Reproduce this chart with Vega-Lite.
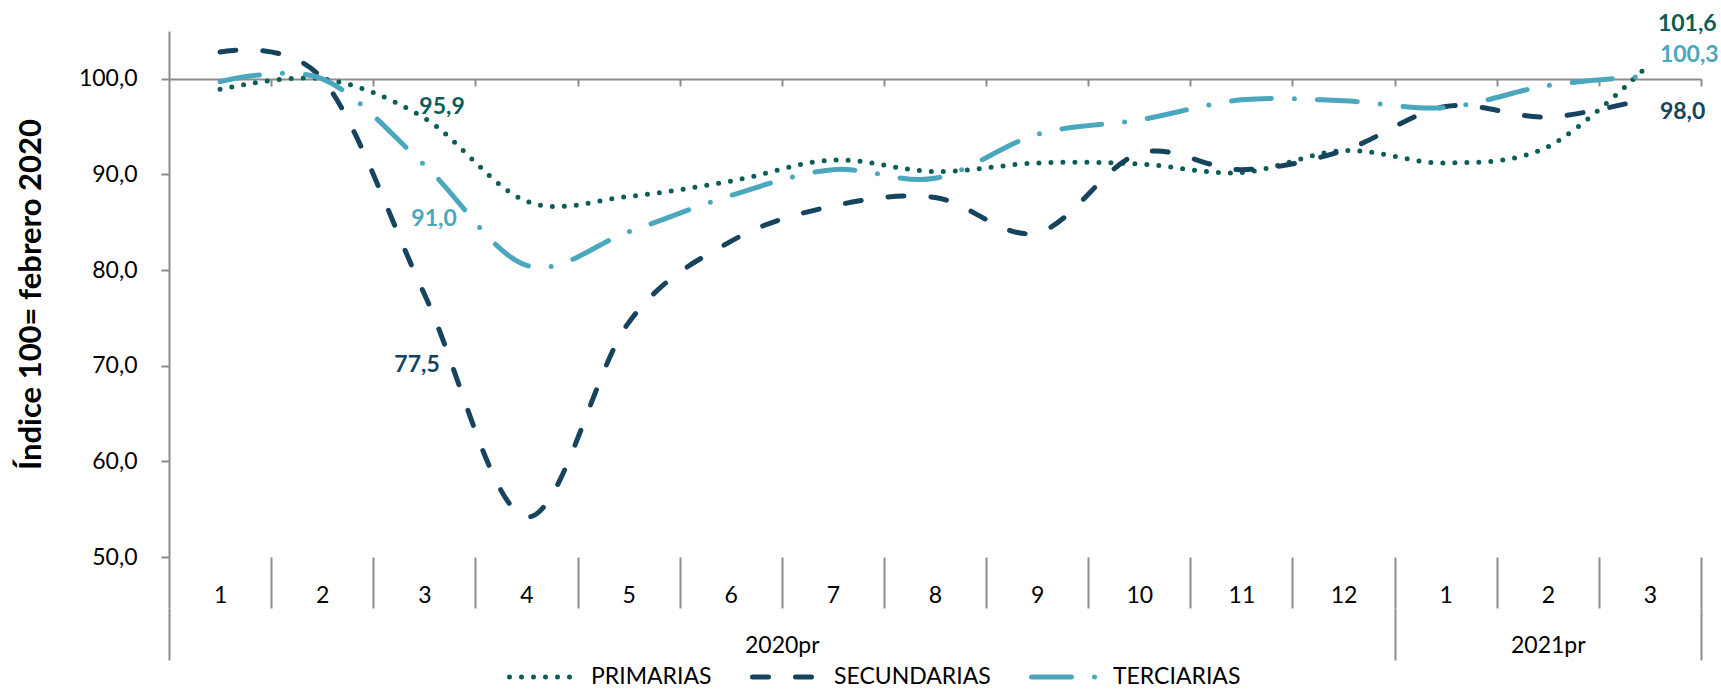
{
  "$schema": "https://vega.github.io/schema/vega-lite/v6.json",
  "width": 1532,
  "height": 526,
  "autosize": {"type": "none"},
  "padding": {"left": 169, "top": 31, "right": 20, "bottom": 133},
  "config": {
    "view": {"stroke": null},
    "font": "Lato",
    "locale": {"number": {"decimal": ",", "thousands": ".", "grouping": [3], "currency": ["", " €"]}},
    "axis": {
      "labelFont": "Lato", "labelFontSize": 23, "labelColor": "#000000",
      "domainColor": "#8c8c8c", "tickColor": "#8c8c8c", "domainWidth": 2, "tickWidth": 2,
      "grid": false, "titleFont": "Lato"
    },
    "legend": {"padding": 0}
  },
  "data": {"values": [
    {"serie": "PRIMARIAS", "n": 1, "valor": 98.9},
    {"serie": "PRIMARIAS", "n": 2, "valor": 100.0},
    {"serie": "PRIMARIAS", "n": 3, "valor": 95.9},
    {"serie": "PRIMARIAS", "n": 4, "valor": 87.2},
    {"serie": "PRIMARIAS", "n": 5, "valor": 87.7},
    {"serie": "PRIMARIAS", "n": 6, "valor": 89.3},
    {"serie": "PRIMARIAS", "n": 7, "valor": 91.5},
    {"serie": "PRIMARIAS", "n": 8, "valor": 90.3},
    {"serie": "PRIMARIAS", "n": 9, "valor": 91.2},
    {"serie": "PRIMARIAS", "n": 10, "valor": 91.1},
    {"serie": "PRIMARIAS", "n": 11, "valor": 90.2},
    {"serie": "PRIMARIAS", "n": 12, "valor": 92.5},
    {"serie": "PRIMARIAS", "n": 13, "valor": 91.2},
    {"serie": "PRIMARIAS", "n": 14, "valor": 92.9},
    {"serie": "PRIMARIAS", "n": 15, "valor": 101.6},
    {"serie": "SECUNDARIAS", "n": 1, "valor": 102.8},
    {"serie": "SECUNDARIAS", "n": 2, "valor": 100.0},
    {"serie": "SECUNDARIAS", "n": 3, "valor": 77.5},
    {"serie": "SECUNDARIAS", "n": 4, "valor": 54.2},
    {"serie": "SECUNDARIAS", "n": 5, "valor": 74.5},
    {"serie": "SECUNDARIAS", "n": 6, "valor": 83.0},
    {"serie": "SECUNDARIAS", "n": 7, "valor": 86.7},
    {"serie": "SECUNDARIAS", "n": 8, "valor": 87.6},
    {"serie": "SECUNDARIAS", "n": 9, "valor": 83.9},
    {"serie": "SECUNDARIAS", "n": 10, "valor": 92.2},
    {"serie": "SECUNDARIAS", "n": 11, "valor": 90.5},
    {"serie": "SECUNDARIAS", "n": 12, "valor": 92.5},
    {"serie": "SECUNDARIAS", "n": 13, "valor": 97.1},
    {"serie": "SECUNDARIAS", "n": 14, "valor": 96.0},
    {"serie": "SECUNDARIAS", "n": 15, "valor": 98.0},
    {"serie": "TERCIARIAS", "n": 1, "valor": 99.7},
    {"serie": "TERCIARIAS", "n": 2, "valor": 100.0},
    {"serie": "TERCIARIAS", "n": 3, "valor": 91.0},
    {"serie": "TERCIARIAS", "n": 4, "valor": 80.5},
    {"serie": "TERCIARIAS", "n": 5, "valor": 84.0},
    {"serie": "TERCIARIAS", "n": 6, "valor": 87.8},
    {"serie": "TERCIARIAS", "n": 7, "valor": 90.5},
    {"serie": "TERCIARIAS", "n": 8, "valor": 89.6},
    {"serie": "TERCIARIAS", "n": 9, "valor": 94.2},
    {"serie": "TERCIARIAS", "n": 10, "valor": 95.7},
    {"serie": "TERCIARIAS", "n": 11, "valor": 97.8},
    {"serie": "TERCIARIAS", "n": 12, "valor": 97.7},
    {"serie": "TERCIARIAS", "n": 13, "valor": 97.0},
    {"serie": "TERCIARIAS", "n": 14, "valor": 99.3},
    {"serie": "TERCIARIAS", "n": 15, "valor": 100.3}
  ]},
  "resolve": {"axis": {"x": "independent"}},
  "layer": [
    {
      "mark": {"type": "line", "interpolate": "cardinal", "strokeWidth": 5, "strokeCap": "round"},
      "encoding": {
        "x": {"field": "n", "type": "quantitative",
          "scale": {"domain": [0.5, 15.5], "nice": false, "zero": false},
          "axis": {"orient": "bottom", "offset": -478, "values": [1.5, 2.5, 3.5, 4.5, 5.5, 6.5, 7.5, 8.5, 9.5, 10.5, 11.5, 12.5, 13.5, 14.5, 15.5],
            "tickSize": 7, "labels": false, "title": null, "domain": true, "ticks": true}},
        "y": {"field": "valor", "type": "quantitative",
          "scale": {"domain": [50, 105], "nice": false, "zero": false},
          "axis": {"values": [50, 60, 70, 80, 90, 100], "format": ".1f", "tickSize": 8, "labelPadding": 24,
            "title": "Índice 100= febrero 2020", "titleFontSize": 31, "titleFontWeight": "bold", "titleColor": "#000000", "titlePadding": 31}},
        "color": {"field": "serie", "type": "nominal",
          "scale": {"domain": ["PRIMARIAS", "SECUNDARIAS", "TERCIARIAS"], "range": ["#0b5e58", "#16445f", "#4aa7be"]},
          "legend": {"orient": "none", "legendX": 338, "legendY": 633, "direction": "horizontal", "title": null,
            "symbolType": "stroke", "symbolSize": 4900, "symbolStrokeWidth": 5, "clipHeight": 26, "labelFontSize": 23, "labelFont": "Lato",
            "labelColor": "#000000", "labelOffset": 9, "columnPadding": 38, "labelLimit": 300,
            "encoding": {"symbols": {"strokeCap": {"value": "round"}}}}},
        "strokeDash": {"field": "serie", "type": "nominal",
          "scale": {"domain": ["PRIMARIAS", "SECUNDARIAS", "TERCIARIAS"], "range": [[0, 12], [16, 27], [40, 23, 0, 23]]},
          "legend": {"orient": "none", "legendX": 338, "legendY": 633, "direction": "horizontal", "title": null,
            "symbolType": "stroke", "symbolSize": 4900, "symbolStrokeWidth": 5, "clipHeight": 26, "labelFontSize": 23, "labelFont": "Lato",
            "labelColor": "#000000", "labelOffset": 9, "columnPadding": 38, "labelLimit": 300,
            "encoding": {"symbols": {"strokeCap": {"value": "round"}}}}}
      }
    },
    {
      "transform": [{"filter": "datum.serie == 'PRIMARIAS' && datum.n == 3"}],
      "mark": {"type": "text", "align": "left", "baseline": "middle", "dx": -5, "dy": -11, "fontSize": 23, "fontWeight": "bold", "font": "Lato"},
      "encoding": {
        "x": {"field": "n", "type": "quantitative",
          "axis": {"orient": "bottom", "offset": 0, "values": [0.5, 1.5, 2.5, 3.5, 4.5, 5.5, 6.5, 7.5, 8.5, 9.5, 10.5, 11.5, 12.5, 13.5, 14.5, 15.5],
            "tickSize": 51, "labels": false, "domain": false, "title": null}},
        "y": {"field": "valor", "type": "quantitative"},
        "text": {"field": "valor", "type": "quantitative", "format": ".1f"},
        "color": {"value": "#0b5e58"}
      }
    },
    {
      "transform": [{"filter": "datum.serie == 'TERCIARIAS' && datum.n == 3"}],
      "mark": {"type": "text", "align": "left", "baseline": "middle", "dx": -13, "dy": 54, "fontSize": 23, "fontWeight": "bold", "font": "Lato"},
      "encoding": {
        "x": {"field": "n", "type": "quantitative",
          "axis": {"orient": "bottom", "offset": 0, "values": [1, 2, 3, 4, 5, 6, 7, 8, 9, 10, 11, 12, 13, 14, 15],
            "labelExpr": "'' + (datum.value > 12 ? datum.value - 12 : datum.value)",
            "ticks": false, "tickSize": 0, "labelPadding": 38, "labelBaseline": "middle", "domain": false, "title": null}},
        "y": {"field": "valor", "type": "quantitative"},
        "text": {"field": "valor", "type": "quantitative", "format": ".1f"},
        "color": {"value": "#4aa7be"}
      }
    },
    {
      "transform": [{"filter": "datum.serie == 'SECUNDARIAS' && datum.n == 3"}],
      "mark": {"type": "text", "align": "left", "baseline": "middle", "dx": -30, "dy": 71, "fontSize": 23, "fontWeight": "bold", "font": "Lato"},
      "encoding": {
        "x": {"field": "n", "type": "quantitative",
          "axis": {"orient": "bottom", "offset": 51, "values": [0.5, 12.5, 15.5],
            "tickSize": 52, "labels": false, "domain": false, "title": null}},
        "y": {"field": "valor", "type": "quantitative"},
        "text": {"field": "valor", "type": "quantitative", "format": ".1f"},
        "color": {"value": "#16445f"}
      }
    },
    {
      "transform": [{"filter": "datum.serie == 'PRIMARIAS' && datum.n == 15"}],
      "mark": {"type": "text", "align": "left", "baseline": "middle", "dx": 8, "dy": -40, "fontSize": 23, "fontWeight": "bold", "font": "Lato"},
      "encoding": {
        "x": {"field": "n", "type": "quantitative",
          "axis": {"orient": "bottom", "offset": 51, "values": [6.5, 14],
            "labelExpr": "datum.value < 12 ? '2020pr' : '2021pr'",
            "ticks": false, "tickSize": 0, "labelPadding": 37, "labelBaseline": "middle", "domain": false, "title": null}},
        "y": {"field": "valor", "type": "quantitative"},
        "text": {"field": "valor", "type": "quantitative", "format": ".1f"},
        "color": {"value": "#0b5e58"}
      }
    },
    {
      "transform": [{"filter": "datum.serie == 'TERCIARIAS' && datum.n == 15"}],
      "mark": {"type": "text", "align": "left", "baseline": "middle", "dx": 10, "dy": -21, "fontSize": 23, "fontWeight": "bold", "font": "Lato"},
      "encoding": {
        "x": {"field": "n", "type": "quantitative", "axis": null},
        "y": {"field": "valor", "type": "quantitative"},
        "text": {"field": "valor", "type": "quantitative", "format": ".1f"},
        "color": {"value": "#4aa7be"}
      }
    },
    {
      "transform": [{"filter": "datum.serie == 'SECUNDARIAS' && datum.n == 15"}],
      "mark": {"type": "text", "align": "left", "baseline": "middle", "dx": 10, "dy": 14, "fontSize": 23, "fontWeight": "bold", "font": "Lato"},
      "encoding": {
        "x": {"field": "n", "type": "quantitative", "axis": null},
        "y": {"field": "valor", "type": "quantitative"},
        "text": {"field": "valor", "type": "quantitative", "format": ".1f"},
        "color": {"value": "#16445f"}
      }
    }
  ]
}
